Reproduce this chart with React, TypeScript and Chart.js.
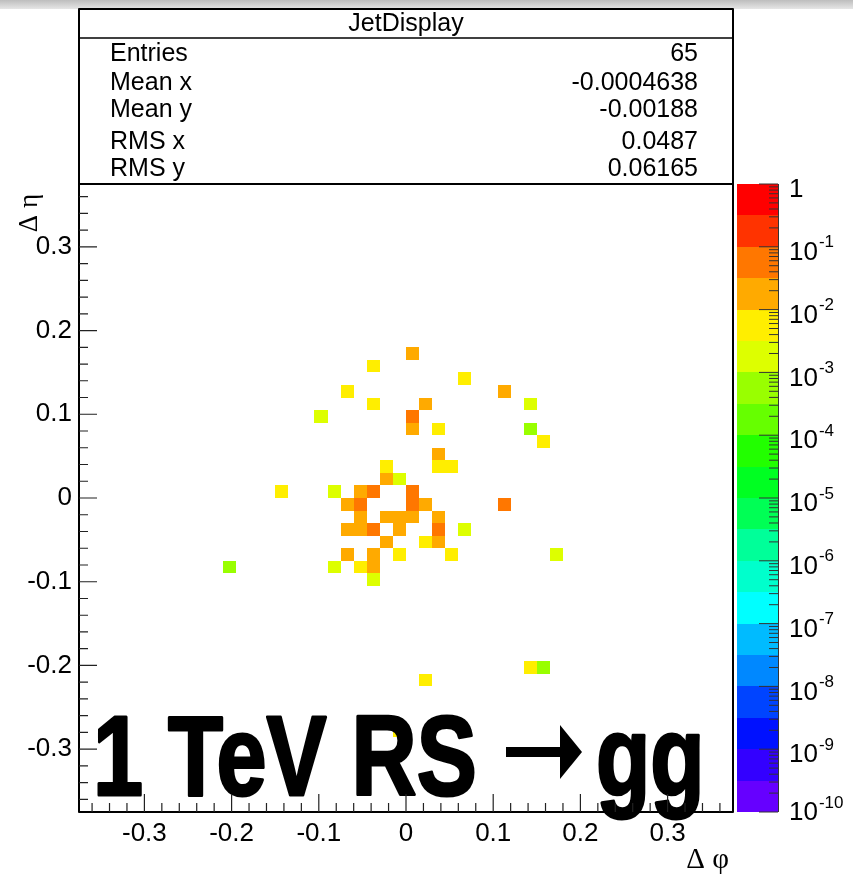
import React, { useEffect, useRef } from 'react';
import { Chart, registerables } from 'chart.js';

Chart.register(...registerables);

const W = 853;
const H = 878;

// ---- data ----
const binWidth = 0.015;
const axisMin = -0.375;
const axisMax = 0.375;
const majorTicks = [-0.3, -0.2, -0.1, 0, 0.1, 0.2, 0.3];

const cellPhi = [
  0.0075, -0.0375, 0.0675, -0.0675, 0.1125, -0.0375, 0.0225, 0.1425, -0.0975, 0.0075,
  0.0075, 0.0375, 0.1425, 0.1575, 0.0375, -0.0225, 0.0375, 0.0525, -0.0225, -0.0075,
  -0.1425, -0.0825, -0.0525, -0.0375, 0.0075, -0.0675, -0.0525, 0.0075, 0.0225, 0.1125,
  -0.0525, -0.0225, -0.0075, 0.0075, 0.0375, -0.0675, -0.0525, -0.0375, -0.0075, 0.0375,
  0.0675, -0.0225, 0.0225, 0.0375, -0.0675, -0.0375, -0.0075, 0.0525, 0.1725, -0.2025,
  -0.0825, -0.0525, -0.0375, -0.0375, 0.1425, 0.1575, 0.0225, -0.0075,
];
const cellEta = [
  0.1725, 0.1575, 0.1425, 0.1275, 0.1275, 0.1125, 0.1125, 0.1125, 0.0975, 0.0975,
  0.0825, 0.0825, 0.0825, 0.0675, 0.0525, 0.0375, 0.0375, 0.0375, 0.0225, 0.0225,
  0.0075, 0.0075, 0.0075, 0.0075, 0.0075, -0.0075, -0.0075, -0.0075, -0.0075, -0.0075,
  -0.0225, -0.0225, -0.0225, -0.0225, -0.0225, -0.0375, -0.0375, -0.0375, -0.0375, -0.0375,
  -0.0375, -0.0525, -0.0525, -0.0525, -0.0675, -0.0675, -0.0675, -0.0675, -0.0675, -0.0825,
  -0.0825, -0.0825, -0.0825, -0.0975, -0.2025, -0.2025, -0.2175, -0.2775,
];
const cellValue = [
  0.02, 0.005, 0.005, 0.005, 0.02, 0.005, 0.02, 0.002, 0.002, 0.05,
  0.02, 0.005, 0.0006, 0.005, 0.02, 0.005, 0.005, 0.005, 0.02, 0.002,
  0.005, 0.002, 0.02, 0.05, 0.05, 0.02, 0.05, 0.05, 0.02, 0.05,
  0.02, 0.02, 0.02, 0.02, 0.02, 0.02, 0.02, 0.05, 0.02, 0.05,
  0.002, 0.02, 0.005, 0.02, 0.02, 0.02, 0.005, 0.005, 0.002, 0.0006,
  0.002, 0.005, 0.02, 0.002, 0.005, 0.0006, 0.005, 0.005,
];

const statTitle = 'JetDisplay';
const statLabels = ['Entries', 'Mean x', 'Mean y', 'RMS x', 'RMS y'];
const statValues = ['65', '-0.0004638', '-0.00188', '0.0487', '0.06165'];

const zMin = 1e-10;
const zMax = 1;
const zExponents = [0, -1, -2, -3, -4, -5, -6, -7, -8, -9, -10];
// 20 colour contours, from lowest (1e-10) to highest (1)
const paletteColors = [
  '#6600FF', '#3300FF', '#0011FF', '#0044FF', '#0088FF', '#00BBFF', '#00FFFF', '#00FFCC', '#00FF99', '#00FF55',
  '#00FF22', '#22FF00', '#66FF00', '#99FF00', '#DDFF00', '#FFEE00', '#FFAA00', '#FF7700', '#FF3300', '#FF0000',
];

const bigLabelLeft = '1 TeV RS';
const bigLabelRight = 'gg';

const SANS = '"Liberation Sans", Arial, Helvetica, sans-serif';
const SERIF = '"Liberation Serif", "DejaVu Serif", serif';

function colorFor(v: number) {
  const lv = Math.log10(v);
  let i = Math.floor((lv - Math.log10(zMin)) / ((Math.log10(zMax) - Math.log10(zMin)) / paletteColors.length));
  i = Math.max(0, Math.min(paletteColors.length - 1, i));
  return paletteColors[i];
}

const rootPlugin = {
  id: 'rootStyle',
  beforeDraw(chart: any) {
    const ctx = chart.ctx;
    ctx.save();
    ctx.fillStyle = '#ffffff';
    ctx.fillRect(0, 0, W, H);
    const g = ctx.createLinearGradient(0, 0, 0, 9);
    g.addColorStop(0, '#bdbdbd');
    g.addColorStop(1, '#e6e6e6');
    ctx.fillStyle = g;
    ctx.fillRect(0, 0, W, 9);
    ctx.restore();
  },
  beforeDatasetsDraw(chart: any) {
    const ctx = chart.ctx;
    const xs = chart.scales.x;
    const ys = chart.scales.y;
    const ds = chart.data.datasets[0].data as any[];
    ctx.save();
    for (const p of ds) {
      const x1 = Math.round(xs.getPixelForValue(p.x - binWidth / 2));
      const x2 = Math.round(xs.getPixelForValue(p.x + binWidth / 2));
      const y1 = Math.round(ys.getPixelForValue(p.y + binWidth / 2));
      const y2 = Math.round(ys.getPixelForValue(p.y - binWidth / 2));
      ctx.fillStyle = colorFor(p.v);
      ctx.fillRect(x1, y1, x2 - x1, y2 - y1);
    }
    ctx.restore();
  },
  afterDraw(chart: any) {
    const ctx = chart.ctx;
    const a = chart.chartArea;
    const xs = chart.scales.x;
    const ys = chart.scales.y;
    const zs = chart.scales.z;
    ctx.save();

    // big label (drawn over the cells)
    ctx.fillStyle = '#000';
    ctx.strokeStyle = '#000';
    ctx.lineJoin = 'round';
    ctx.lineWidth = 3;
    ctx.font = `bold 114px ${SANS}`;
    ctx.textBaseline = 'alphabetic';
    ctx.textAlign = 'left';
    ctx.save();
    ctx.translate(93, 795);
    ctx.scale(0.79, 1);
    ctx.fillText(bigLabelLeft, 0, 0);
    ctx.strokeText(bigLabelLeft, 0, 0);
    ctx.restore();
    ctx.save();
    ctx.translate(596, 795);
    ctx.scale(0.78, 1);
    ctx.fillText(bigLabelRight, 0, 0);
    ctx.strokeText(bigLabelRight, 0, 0);
    ctx.restore();
    // arrow
    ctx.fillRect(506, 747, 58, 10);
    ctx.beginPath();
    ctx.moveTo(560, 725);
    ctx.lineTo(582, 752);
    ctx.lineTo(560, 779);
    ctx.closePath();
    ctx.fill();

    // frame
    ctx.strokeStyle = '#000';
    ctx.lineWidth = 2;
    ctx.strokeRect(a.left, a.top, a.right - a.left, a.bottom - a.top);

    // inner ticks
    ctx.lineWidth = 1.2;
    ctx.strokeStyle = '#222';
    ctx.beginPath();
    for (let k = -18; k <= 18; k++) {
      const v = k * 0.02;
      const major = k % 5 === 0;
      const len = major ? 18 : 9;
      const px = xs.getPixelForValue(v);
      ctx.moveTo(px, a.bottom);
      ctx.lineTo(px, a.bottom - len);
      const py = ys.getPixelForValue(v);
      ctx.moveTo(a.left, py);
      ctx.lineTo(a.left + len, py);
    }
    ctx.stroke();

    // stat box
    const bx = a.left, bTop = 9, bw = a.right - a.left, bBot = a.top;
    ctx.fillStyle = '#fff';
    ctx.fillRect(bx, bTop, bw, bBot - bTop);
    ctx.strokeStyle = '#000';
    ctx.lineWidth = 2;
    ctx.strokeRect(bx, bTop, bw, bBot - bTop);
    ctx.lineWidth = 1.5;
    ctx.beginPath();
    ctx.moveTo(bx, 38);
    ctx.lineTo(bx + bw, 38);
    ctx.stroke();
    ctx.fillStyle = '#000';
    ctx.textBaseline = 'middle';
    ctx.font = `25px ${SANS}`;
    ctx.textAlign = 'center';
    ctx.fillText(statTitle, (a.left + a.right) / 2, 24);
    const rowY = [54, 83, 110, 142, 169];
    statLabels.forEach((l, i) => {
      ctx.textAlign = 'left';
      ctx.fillText(l, 110, rowY[i]);
      ctx.textAlign = 'right';
      ctx.fillText(statValues[i], 698, rowY[i]);
    });

    // colour bar
    const cbL = a.right + 4;
    const cbR = a.right + 45;
    const lmin = Math.log10(zMin), lmax = Math.log10(zMax);
    const step = (lmax - lmin) / paletteColors.length;
    paletteColors.forEach((c, i) => {
      const yb = Math.round(zs.getPixelForValue(Math.pow(10, lmin + i * step)));
      const yt = Math.round(zs.getPixelForValue(Math.pow(10, lmin + (i + 1) * step)));
      ctx.fillStyle = c;
      ctx.fillRect(cbL, yt, cbR - cbL, yb - yt);
    });
    ctx.strokeStyle = '#333';
    ctx.lineWidth = 1;
    ctx.beginPath();
    ctx.moveTo(cbR + 0.5, a.top);
    ctx.lineTo(cbR + 0.5, a.bottom);
    for (let e = 0; e >= -10; e--) {
      const py = zs.getPixelForValue(Math.pow(10, e));
      ctx.moveTo(cbR, py);
      ctx.lineTo(cbR - 19, py);
      if (e > -10) {
        for (let m = 2; m <= 9; m++) {
          const pm = zs.getPixelForValue(m * Math.pow(10, e - 1));
          ctx.moveTo(cbR, pm);
          ctx.lineTo(cbR - 9, pm);
        }
      }
    }
    ctx.stroke();
    ctx.fillStyle = '#000';
    ctx.textAlign = 'left';
    ctx.textBaseline = 'middle';
    zExponents.forEach((e) => {
      const py = zs.getPixelForValue(Math.pow(10, e));
      const my = e === -10 ? py + 1 : py + 6;
      ctx.font = `26px ${SANS}`;
      if (e === 0) {
        ctx.fillText('1', 789, my);
      } else {
        ctx.fillText('10', 789, my);
        const w = ctx.measureText('10').width;
        ctx.font = `17px ${SANS}`;
        ctx.fillText(String(e), 789 + w + 1, my - 10);
      }
    });

    // axis titles
    ctx.font = `29px ${SERIF}`;
    ctx.fillStyle = '#000';
    ctx.textAlign = 'right';
    ctx.textBaseline = 'alphabetic';
    ctx.fillText('\u0394 \u03c6', 729, 868);
    ctx.save();
    ctx.font = `27px ${SERIF}`;
    ctx.translate(37, 194);
    ctx.rotate(-Math.PI / 2);
    ctx.textAlign = 'right';
    ctx.fillText('\u0394 \u03b7', 0, 0);
    ctx.restore();

    ctx.restore();
  },
};

function fmtTick(v: number) {
  const r = Math.round(v * 10);
  if (Math.abs(v * 10 - r) > 1e-6) return '';
  if (r === 0) return '0';
  return (r / 10).toFixed(1);
}

export default function App() {
  const ref = useRef<HTMLCanvasElement | null>(null);
  useEffect(() => {
    if (!ref.current) return;
    const data = cellPhi.map((x, i) => ({ x, y: cellEta[i], v: cellValue[i] }));
    const chart = new Chart(ref.current, {
      type: 'scatter',
      data: {
        datasets: [
          {
            data,
            pointRadius: 0,
            pointHoverRadius: 0,
          } as any,
        ],
      },
      options: {
        responsive: false,
        animation: false,
        events: [],
        layout: { padding: { left: 0, top: 184, right: 120, bottom: 0 } },
        plugins: { legend: { display: false }, tooltip: { enabled: false } },
        scales: {
          x: {
            type: 'linear',
            position: 'bottom',
            min: axisMin,
            max: axisMax,
            grid: { display: false, drawTicks: false },
            border: { display: false },
            afterBuildTicks: (s: any) => {
              s.ticks = majorTicks.map((v) => ({ value: v }));
            },
            ticks: {
              autoSkip: false,
              maxRotation: 0,
              padding: 6,
              color: '#000',
              font: { size: 26, family: SANS },
              callback: (v: any) => fmtTick(Number(v)),
            },
            afterFit: (s: any) => {
              s.height = 66;
            },
          },
          y: {
            type: 'linear',
            position: 'left',
            min: axisMin,
            max: axisMax,
            grid: { display: false, drawTicks: false },
            border: { display: false },
            afterBuildTicks: (s: any) => {
              s.ticks = majorTicks.map((v) => ({ value: v }));
            },
            ticks: {
              autoSkip: false,
              padding: 7,
              color: '#000',
              font: { size: 26, family: SANS },
              callback: (v: any) => fmtTick(Number(v)),
            },
            afterFit: (s: any) => {
              s.width = 79;
            },
          },
          z: {
            type: 'logarithmic',
            position: 'right',
            min: zMin,
            max: zMax,
            display: false,
          },
        },
      } as any,
      plugins: [rootPlugin],
    });
    return () => chart.destroy();
  }, []);
  return (
    <div style={{ position: 'absolute', left: 0, top: 0, width: W, height: H, background: '#fff' }}>
      <canvas ref={ref} width={W} height={H} style={{ display: 'block', width: W, height: H }} />
    </div>
  );
}
